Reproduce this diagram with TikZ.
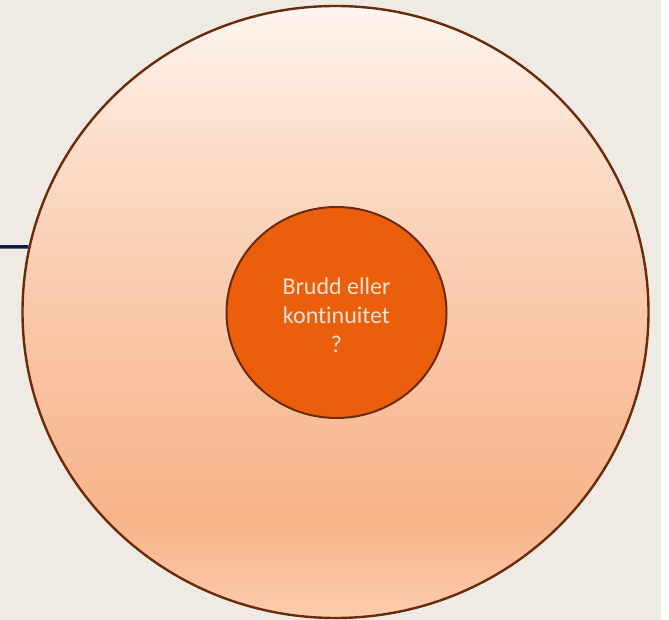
\documentclass[tikz,border=0pt]{standalone}
\usepackage{fontspec}
\setmainfont{Carlito}[Ligatures=NoCommon]
\usetikzlibrary{shapes.geometric}
\definecolor{bgbeige}{HTML}{EFEBE4}
\definecolor{rimbrown}{HTML}{6B2A0A}
\definecolor{coreorange}{HTML}{EB5E0B}
\definecolor{navyline}{HTML}{0F1A4A}
\definecolor{textpeach}{HTML}{FBE3D3}
\definecolor{gA}{HTML}{FEF6F0}
\definecolor{gB}{HTML}{FBDCC8}
\definecolor{gC}{HTML}{F9C8AA}
\definecolor{gD}{HTML}{F8B48A}
\definecolor{gE}{HTML}{FCCDAE}
\pgfdeclareverticalshading{outerfill}{100bp}{color(0bp)=(gE); color(25bp)=(gE); color(33bp)=(gD); color(50bp)=(gC); color(63bp)=(gB); color(75bp)=(gA); color(100bp)=(gA)}
\tikzset{
  outerdisc/.style={ellipse, inner sep=0pt, draw=rimbrown, line width=2.4pt, shading=outerfill},
  innerdisc/.style={ellipse, inner sep=0pt, draw=rimbrown, line width=2pt, fill=coreorange},
  corelabel/.style={text=textpeach, align=center, font=\fontsize{24}{29}\selectfont},
  linkline/.style={draw=navyline, line width=3.5pt}
}
\begin{document}
\begin{tikzpicture}[x=1pt,y=-1pt]
\fill[bgbeige] (0,0) rectangle (661,620);
\fill[white] (661,0) rectangle (669,620);
\useasboundingbox (0,0) rectangle (669,620);
\node[outerdisc, minimum width=626pt, minimum height=612pt] (outer) at (335.5,312) {};
\coordinate (lstart) at (0,247);
\draw[linkline] (lstart) -- (outer.168);
\node[innerdisc, minimum width=220pt, minimum height=211pt] (core) at (336.5,312.5) {};
\node[corelabel] (txt) at (336.5,315) {Brudd eller\\kontinuitet\\?};
\end{tikzpicture}
\end{document}
